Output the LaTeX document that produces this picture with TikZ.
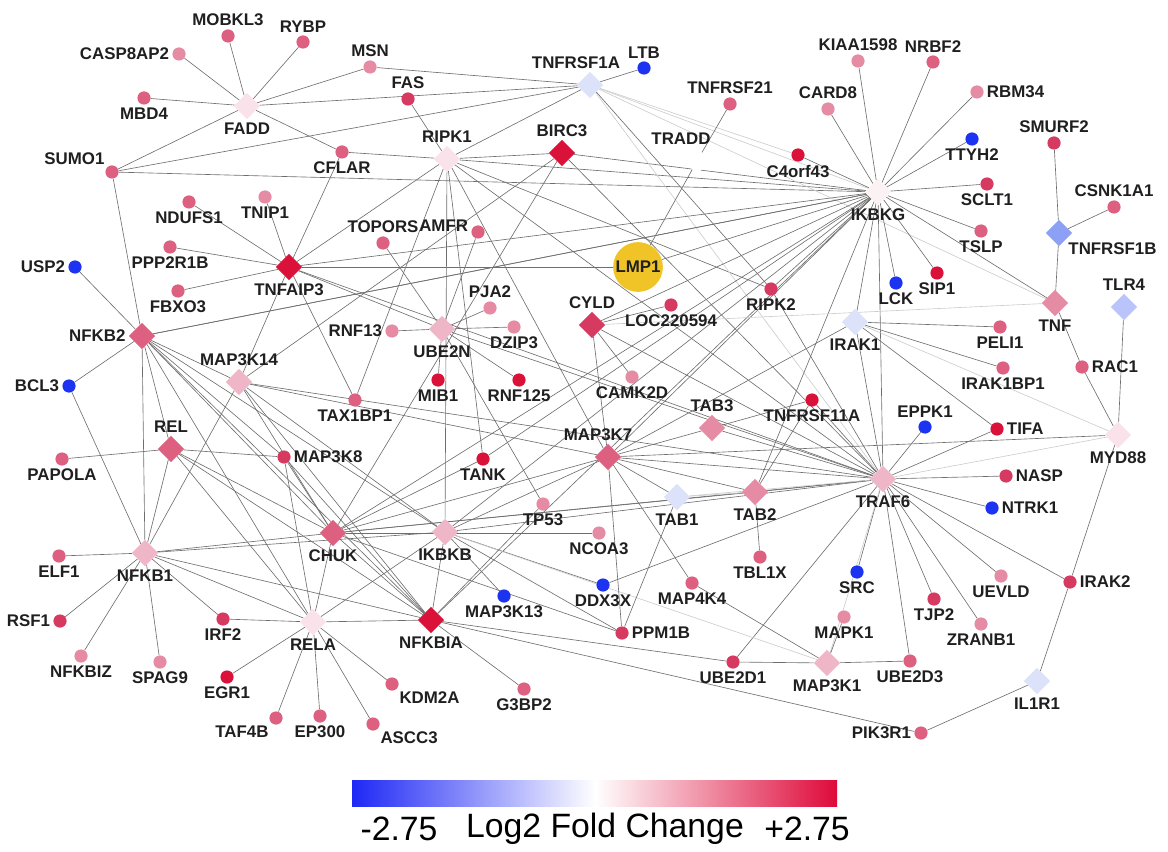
\documentclass[tikz,border=0pt]{standalone}
\usepackage{fontspec}
\setmainfont{Liberation Sans}
\usetikzlibrary{shapes.geometric,backgrounds}
\definecolor{fcRed}{RGB}{218,18,58}
\definecolor{fcRose}{RGB}{214,58,96}
\definecolor{fcPink}{RGB}{221,96,128}
\definecolor{fcLight}{RGB}{229,140,164}
\definecolor{fcPale}{RGB}{238,182,198}
\definecolor{fcHub}{RGB}{249,226,233}
\definecolor{fcWhite}{RGB}{252,242,244}
\definecolor{fcIce}{RGB}{220,226,250}
\definecolor{fcSky}{RGB}{186,196,250}
\definecolor{fcPeri}{RGB}{140,160,245}
\definecolor{fcBlue}{RGB}{28,52,242}
\definecolor{fcGold}{RGB}{240,195,38}
\definecolor{cbBlue}{RGB}{30,40,245}
\definecolor{cbRed}{RGB}{222,10,58}

\begin{document}
\begin{tikzpicture}[x=0.025cm,y=-0.025cm,
  dot/.style={circle,inner sep=0pt,minimum size=0.33cm,fill=#1},
  gene/.style={diamond,aspect=1,inner sep=0pt,minimum size=0.66cm,fill=#1},
  lab/.style={font=\fontsize{12}{13}\selectfont\bfseries,text=black!88,inner sep=1pt},
  every label/.style={lab},label distance=1pt,
  link/.style={draw=black!57,line width=0.45pt},
  faint/.style={draw=black!20,line width=0.45pt},
  scale text/.style={font=\fontsize{24}{28}\selectfont}]
\useasboundingbox (0,0) rectangle (1168,852);

% top left: FADD group
\node[dot=fcPink,label=above:MOBKL3] (mobkl3) at (228,36) {};
\node[dot=fcPink,label=above:RYBP] (rybp) at (303,42) {};
\node[dot=fcLight,label=left:CASP8AP2] (casp8ap2) at (179,54) {};
\node[dot=fcPink,label=below:MBD4] (mbd4) at (144,98) {};
\node[gene=fcHub,label=below:FADD] (fadd) at (247,106) {};
\node[dot=fcPink,label=above left:SUMO1] (sumo1) at (112,172) {};
\node[dot=fcLight,label=above:MSN] (msn) at (370,67) {};
\node[dot=fcRose,label=above:FAS] (fas) at (408,99) {};
\node[gene=fcHub,label=above:RIPK1] (ripk1) at (447,159) {};
\node[dot=fcPink,label=below:CFLAR] (cflar) at (342,152) {};
\node[gene=fcRed,label=above:BIRC3] (birc3) at (562,153) {};
\node[gene=fcIce,label={[xshift=-0.35cm]above:TNFRSF1A}] (tnfrsf1a) at (590,85) {};
\node[dot=fcBlue,label=above:LTB] (ltb) at (644,68) {};
\node[dot=fcPink,label=above:TNFRSF21] (tnfrsf21) at (730,104) {};
\node[gene=white,label={[xshift=-0.4cm]above:TRADD}] (tradd) at (697,161) {};

% top right: IKBKG group
\node[dot=fcLight,label=above:KIAA1598] (kiaa1598) at (858,61) {};
\node[dot=fcLight,label=above:CARD8] (card8) at (828,109) {};
\node[dot=fcRed,label=below:C4orf43] (c4orf43) at (798,155) {};
\node[gene=fcWhite,label=below:IKBKG] (ikbkg) at (878,192) {};
\node[dot=fcPink,label=above:NRBF2] (nrbf2) at (933,62) {};
\node[dot=fcLight,label=right:RBM34] (rbm34) at (977,92) {};
\node[dot=fcBlue,label=below:TTYH2] (ttyh2) at (972,139) {};
\node[dot=fcRose,label=below:SCLT1] (sclt1) at (987,184) {};
\node[dot=fcPink,label=below:TSLP] (tslp) at (981,231) {};
\node[dot=fcRose,label=above:SMURF2] (smurf2) at (1054,143) {};
\node[dot=fcPink,label=above:CSNK1A1] (csnk1a1) at (1114,207) {};
\node[gene=fcPeri,label=below right:TNFRSF1B] (tnfrsf1b) at (1059,233) {};
\node[circle,fill=fcGold,minimum size=1.05cm,inner sep=0pt,lab] (lmp1) at (638,267) {LMP1};

% TNFAIP3 / UBE2N group
\node[dot=fcPink,label=below:NDUFS1] (ndufs1) at (189,202) {};
\node[dot=fcLight,label=below:TNIP1] (tnip1) at (265,197) {};
\node[dot=fcPink,label=below:PPP2R1B] (ppp2r1b) at (170,247) {};
\node[dot=fcBlue,label=left:USP2] (usp2) at (75,267) {};
\node[gene=fcRed,label=below:TNFAIP3] (tnfaip3) at (289,267) {};
\node[dot=fcPink,label=above:TOPORS] (topors) at (383,243) {};
\node[dot=fcPink,label={[yshift=0.15cm]left:AMFR}] (amfr) at (478,232) {};
\node[dot=fcPink,label=below:FBXO3] (fbxo3) at (178,291) {};
\node[dot=fcLight,label=above:PJA2] (pja2) at (490,308) {};
\node[gene=fcPale,label=below:UBE2N] (ube2n) at (442,329) {};
\node[dot=fcLight,label=left:RNF13] (rnf13) at (392,331) {};
\node[dot=fcLight,label=below:DZIP3] (dzip3) at (514,327) {};
\node[gene=fcRose,label=above:CYLD] (cyld) at (592,325) {};
\node[dot=fcRose,label=below:LOC220594] (loc220594) at (671,305) {};
\node[dot=fcRose,label=below:RIPK2] (ripk2) at (771,289) {};
\node[gene=fcIce,label=below:IRAK1] (irak1) at (855,322) {};
\node[dot=fcBlue,label=below:LCK] (lck) at (896,283) {};
\node[dot=fcRed,label=below:SIP1] (sip1) at (937,273) {};
\node[gene=fcLight,label=below:TNF] (tnf) at (1055,303) {};
\node[gene=fcSky,label=above:TLR4] (tlr4) at (1124,307) {};
\node[dot=fcPink,label=below:PELI1] (peli1) at (1000,327) {};
\node[gene=fcPink,label=left:NFKB2] (nfkb2) at (142,336) {};
\node[gene=fcPale,label=above:MAP3K14] (map3k14) at (239,382) {};
\node[dot=fcRed,label=below:MIB1] (mib1) at (438,380) {};
\node[dot=fcRed,label=below:RNF125] (rnf125) at (519,380) {};
\node[dot=fcLight,label=below:CAMK2D] (camk2d) at (632,377) {};
\node[dot=fcPink,label=below:IRAK1BP1] (irak1bp1) at (1003,368) {};
\node[dot=fcPink,label=right:RAC1] (rac1) at (1082,367) {};
\node[dot=fcBlue,label=left:BCL3] (bcl3) at (69,386) {};
\node[dot=fcPink,label=below:TAX1BP1] (tax1bp1) at (355,400) {};
\node[dot=fcRed,label=below:TNFRSF11A] (tnfrsf11a) at (812,400) {};

% middle band
\node[gene=fcLight,label=above:TAB3] (tab3) at (712,428) {};
\node[dot=fcBlue,label=above:EPPK1] (eppk1) at (925,427) {};
\node[dot=fcRed,label=right:TIFA] (tifa) at (997,429) {};
\node[gene=fcHub,label=below:MYD88] (myd88) at (1118,435) {};
\node[gene=fcPink,label=above:REL] (rel) at (171,449) {};
\node[dot=fcPink,label=below:PAPOLA] (papola) at (62,459) {};
\node[dot=fcRose,label=right:MAP3K8] (map3k8) at (284,457) {};
\node[gene=fcPink,label={[xshift=-0.25cm]above:MAP3K7}] (map3k7) at (608,457) {};
\node[dot=fcRed,label=below:TANK] (tank) at (483,459) {};
\node[dot=fcRose,label=right:NASP] (nasp) at (1006,476) {};
\node[gene=fcPale,label=below:TRAF6] (traf6) at (883,479) {};
\node[gene=fcIce,label=below:TAB1] (tab1) at (677,497) {};
\node[gene=fcLight,label=below:TAB2] (tab2) at (755,492) {};
\node[dot=fcLight,label=below:TP53] (tp53) at (543,504) {};

% lower part
\node[dot=fcPink,label=below:ELF1] (elf1) at (59,556) {};
\node[gene=fcPale,label=below:NFKB1] (nfkb1) at (145,553) {};
\node[gene=fcPink,label=below:CHUK] (chuk) at (333,533) {};
\node[gene=fcPale,label=below:IKBKB] (ikbkb) at (445,532) {};
\node[dot=fcLight,label=below:NCOA3] (ncoa3) at (599,533) {};
\node[dot=fcPink,label=below:TBL1X] (tbl1x) at (760,557) {};
\node[dot=fcBlue,label=right:NTRK1] (ntrk1) at (992,508) {};
\node[dot=fcBlue,label=below:SRC] (src) at (857,572) {};
\node[dot=fcPink,label=below:MAP4K4] (map4k4) at (692,583) {};
\node[dot=fcBlue,label=below:DDX3X] (ddx3x) at (603,585) {};
\node[dot=fcLight,label=below:UEVLD] (uevld) at (1001,576) {};
\node[dot=fcRose,label=below:TJP2] (tjp2) at (934,599) {};
\node[dot=fcRose,label=right:IRAK2] (irak2) at (1070,582) {};
\node[dot=fcRose,label=left:RSF1] (rsf1) at (60,621) {};
\node[dot=fcRose,label=below:IRF2] (irf2) at (223,619) {};
\node[dot=fcBlue,label=below:MAP3K13] (map3k13) at (504,596) {};
\node[dot=fcRose,label=right:PPM1B] (ppm1b) at (622,633) {};
\node[dot=fcLight,label=below:MAPK1] (mapk1) at (844,617) {};
\node[dot=fcLight,label=below:ZRANB1] (zranb1) at (981,624) {};
\node[dot=fcLight,label=below:NFKBIZ] (nfkbiz) at (81,656) {};
\node[dot=fcLight,label=below:SPAG9] (spag9) at (160,662) {};
\node[gene=fcHub,label=below:RELA] (rela) at (313,622) {};
\node[gene=fcRed,label=below:NFKBIA] (nfkbia) at (431,620) {};
\node[dot=fcPink,label=below right:KDM2A] (kdm2a) at (392,684) {};
\node[dot=fcRose,label=below:UBE2D1] (ube2d1) at (733,662) {};
\node[gene=fcPale,label=below:MAP3K1] (map3k1) at (827,663) {};
\node[dot=fcPink,label=below:UBE2D3] (ube2d3) at (910,661) {};
\node[gene=fcIce,label=below:IL1R1] (il1r1) at (1037,681) {};
\node[dot=fcRed,label=below:EGR1] (egr1) at (227,677) {};
\node[dot=fcPink,label=below:G3BP2] (g3bp2) at (524,689) {};
\node[dot=fcPink,label=below left:TAF4B] (taf4b) at (276,718) {};
\node[dot=fcPink,label=below:EP300] (ep300) at (320,716) {};
\node[dot=fcPink,label=below right:ASCC3] (ascc3) at (373,724) {};
\node[dot=fcPink,label=left:PIK3R1] (pik3r1) at (921,733) {};

\begin{scope}[on background layer]
\draw[link] (fadd) edge (mobkl3) edge (rybp) edge (casp8ap2) edge (mbd4) edge (sumo1)
  edge (msn) edge (tnfrsf1a) edge (cflar);
\draw[link] (msn) -- (tnfrsf1a);
\draw[link] (sumo1) edge (tnfrsf1a) edge (ikbkg) edge (nfkb2);
\draw[link] (fas) -- (ripk1);
\draw[link] (cflar) edge (ripk1) edge (tnfaip3);
\draw[link] (ripk1) edge (birc3) edge (tnfrsf1a) edge (tnfaip3) edge (tax1bp1) edge (ripk2)
  edge (traf6) edge (ikbkg) edge (ikbkb) edge (map3k7) edge (tank);
\draw[link] (birc3) edge (ikbkg) edge (traf6) edge (chuk) edge (map3k14);
\draw[link] (tnfrsf1a) edge (ltb) edge (ripk2);
\draw[faint] (tnfrsf1a) edge (ikbkg) edge (tnf) edge (c4orf43) edge (traf6);
\draw[link] (tradd) edge (tnfrsf21) edge (lmp1);
\draw[link] (ikbkg) edge (kiaa1598) edge (nrbf2) edge (rbm34) edge (ttyh2) edge (sclt1)
  edge (tslp) edge (card8) edge (c4orf43) edge (lck) edge (sip1) edge (tnfaip3) edge (nfkb2)
  edge (chuk) edge (ikbkb) edge (map3k7) edge (tank) edge (traf6) edge (irak1) edge (cyld)
  edge (ripk2) edge (tab2) edge (nfkbia) edge (lmp1) edge (tnf);
\draw[link] (tnfrsf1b) edge (smurf2) edge (csnk1a1) edge (tnf);
\draw[link] (tnf) -- (rac1);
\draw[faint] (tnf) -- (cyld);
\draw[link] (ripk2) -- (traf6);
\draw[link] (myd88) edge (rac1) edge (tlr4) edge (irak2) edge (map3k7);
\draw[faint] (myd88) edge (traf6) edge (irak1);
\draw[link] (irak1) edge (peli1) edge (irak1bp1) edge (tifa) edge (traf6) edge (map3k7);
\draw[link] (irak2) edge (traf6) edge (il1r1);
\draw[link] (il1r1) -- (pik3r1);
\draw[link] (traf6) edge (eppk1) edge (tifa) edge (nasp) edge (ntrk1) edge (src) edge (tjp2)
  edge (zranb1) edge (uevld) edge (ube2d3) edge (ube2d1) edge (tab2) edge (tab3)
  edge (map3k7) edge (tnfrsf11a) edge (ube2n) edge (chuk) edge (ikbkb) edge (ddx3x);
\draw[faint] (traf6) edge (tab1) edge (map3k1);
\draw[link] (tnfaip3) edge (ndufs1) edge (tnip1) edge (ppp2r1b) edge (fbxo3) edge (map3k14)
  edge (tax1bp1) edge (ube2n) edge (lmp1) edge (traf6);
\draw[link] (ube2n) edge (rnf13) edge (pja2) edge (dzip3) edge (mib1) edge (rnf125)
  edge (tp53) edge (topors) edge (amfr);
\draw[link] (cyld) edge (loc220594) edge (camk2d) edge (map3k7) edge (traf6);
\draw[link] (nfkb2) edge (usp2) edge (bcl3) edge (nfkb1) edge (map3k14) edge (rel)
  edge (map3k8) edge (chuk) edge (ikbkb) edge (nfkbia) edge (rela) edge (ikbkg);
\draw[link] (bcl3) -- (nfkb1);
\draw[link] (map3k14) edge (chuk) edge (ikbkb) edge (nfkbia) edge (map3k7) edge (traf6);
\draw[link] (rel) edge (papola) edge (map3k8) edge (nfkb1) edge (rela) edge (chuk) edge (nfkbia);
\draw[link] (map3k8) edge (chuk) edge (rela) edge (nfkbia);
\draw[link] (nfkb1) edge (elf1) edge (rsf1) edge (nfkbiz) edge (spag9) edge (irf2) edge (rela)
  edge (chuk) edge (nfkbia) edge (ikbkb) edge (map3k14);
\draw[link] (rela) edge (taf4b) edge (ep300) edge (ascc3) edge (kdm2a) edge (egr1) edge (irf2)
  edge (nfkbia) edge (chuk) edge (ikbkb);
\draw[link] (chuk) edge (nfkbia) edge (map3k7) edge (tank) edge (ppm1b) edge (ncoa3) edge (tab2);
\draw[link] (ikbkb) edge (nfkbia) edge (map3k13) edge (ppm1b) edge (ddx3x) edge (map3k7);
\draw[faint] (ikbkb) -- (map3k1);
\draw[link] (nfkbia) edge (g3bp2) edge (ube2d1) edge (pik3r1) edge (tp53);
\draw[link] (map3k7) edge (tab1) edge (tab2) edge (tab3) edge (map4k4) edge (ppm1b);
\draw[link] (tab2) edge (tbl1x) edge (tnfrsf11a);
\draw[link] (tab3) -- (tnfrsf11a);
\draw[faint] (tab1) -- (tab2);
\draw[link] (tab1) -- (ppm1b);
\draw[link] (map4k4) -- (map3k1);
\draw[link] (map3k1) edge (mapk1) edge (ube2d3) edge (ube2d1);
\end{scope}

% colour scale
\shade[left color=cbBlue,right color=white] (352,780) rectangle (595,806);
\shade[left color=white,right color=cbRed] (595,780) rectangle (837,806);
\node[scale text] (cbmin) at (399,829) {-2.75};
\node[scale text] (cbmid) at (605,829) {Log2 Fold Change};
\node[scale text] (cbmax) at (807,829) {+2.75};
\end{tikzpicture}
\end{document}
